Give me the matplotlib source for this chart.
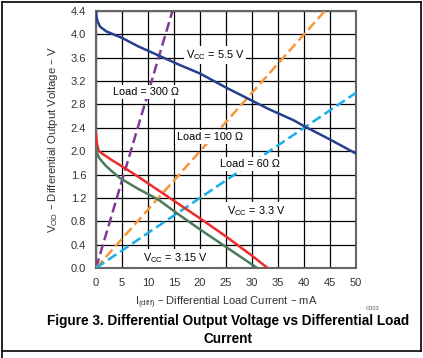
import matplotlib.pyplot as plt
from matplotlib.lines import Line2D

plt.rcParams['font.family'] = ['Liberation Sans', 'DejaVu Sans']

# Vcc curves (I in mA, VOD in V)
vcc55_i = [0, 0.1, 0.3, 0.8, 2, 5, 8, 12, 16, 20, 25, 29, 33, 38, 40, 45, 50]
vcc55_v = [4.40, 4.30, 4.22, 4.13, 4.05, 3.94, 3.80, 3.64, 3.48, 3.33, 3.09, 2.91, 2.73, 2.53, 2.43, 2.20, 1.96]

vcc33_i = [0, 0.2, 0.5, 1, 2, 3, 5, 8, 12, 16, 20, 25, 30, 33]
vcc33_v = [2.30, 2.12, 2.01, 1.97, 1.91, 1.85, 1.74, 1.57, 1.33, 1.09, 0.85, 0.54, 0.21, 0.0]

vcc315_i = [0, 0.2, 0.5, 1, 2, 3, 4.6, 8, 12, 16, 20, 25, 28, 31]
vcc315_v = [2.08, 1.97, 1.90, 1.84, 1.74, 1.66, 1.54, 1.36, 1.17, 0.91, 0.66, 0.36, 0.18, 0.0]

# load lines (end points)
load300_i = [0, 14.7]
load300_v = [0, 4.4]
load100_i = [0, 44]
load100_v = [0, 4.4]
load60_i = [0, 50]
load60_v = [0, 3.0]

x_ticks = [0, 5, 10, 15, 20, 25, 30, 35, 40, 45, 50]
y_ticks = [0.0, 0.4, 0.8, 1.2, 1.6, 2.0, 2.4, 2.8, 3.2, 3.6, 4.0, 4.4]

fig = plt.figure(figsize=(4.23, 3.58), dpi=100)
ax = fig.add_axes([0.227, 0.2514, 0.6146, 0.7178])

dash = (0, (4, 1.8))
ax.plot(load300_i, load300_v, color='#7f3a98', lw=1.8, ls=dash, zorder=3)
ax.plot(load100_i, load100_v, color='#f7963a', lw=1.8, ls=dash, zorder=3)
ax.plot(load60_i, load60_v, color='#19aee8', lw=1.8, ls=dash, zorder=3)
ax.plot(vcc55_i, vcc55_v, color='#25408f', lw=1.8, zorder=4)
ax.plot(vcc33_i, vcc33_v, color='#ee2b2b', lw=1.8, zorder=4)
ax.plot(vcc315_i, vcc315_v, color='#4d7a5c', lw=1.8, zorder=4)

ax.set_xlim(0, 50)
ax.set_ylim(0, 4.4)
ax.set_xticks(x_ticks)
ax.set_yticks(y_ticks)
ax.set_yticklabels([f'{v:.1f}' for v in y_ticks])
ax.grid(True, color='black', lw=0.9, zorder=1)
ax.set_axisbelow(True)
ax.tick_params(length=0, labelsize=8, colors='#333333', pad=7)
for s in ax.spines.values():
    s.set_color('#666666')
    s.set_linewidth(1.5)

box = dict(facecolor='white', edgecolor='none', pad=1.5)
fs = 7.8
ax.text(9.6, 3.02, 'Load = 300 Ω', fontsize=fs, ha='center', va='center', bbox=box, zorder=5)
ax.text(22.9, 3.65, 'V$_{\\mathregular{CC}}$ = 5.5 V', fontsize=fs, ha='center', va='center', bbox=box, zorder=5)
ax.text(21.9, 2.25, 'Load = 100 Ω', fontsize=fs, ha='center', va='center', bbox=box, zorder=5)
ax.text(29.6, 1.78, 'Load = 60 Ω', fontsize=fs, ha='center', va='center', bbox=box, zorder=5)
ax.text(30.9, 0.97, 'V$_{\\mathregular{CC}}$ = 3.3 V', fontsize=fs, ha='center', va='center', bbox=box, zorder=5)
ax.text(15.2, 0.17, 'V$_{\\mathregular{CC}}$ = 3.15 V', fontsize=fs, ha='center', va='center', bbox=box, zorder=5)

ax.set_ylabel('V$_{\\mathregular{OD}}$ – Differential Output Voltage – V', fontsize=8.2, color='#333333', labelpad=8)
ax.set_xlabel('I$_{\\mathregular{(diff)}}$ – Differential Load Current – mA', fontsize=8, color='#333333', labelpad=5)

fig.text(373 / 423, 1 - 308 / 358, 'G003', fontsize=4, color='#555555', ha='center', va='center')
fig.text(228 / 423, 1 - 330 / 358,
         'Figure 3. Differential Output Voltage vs Differential Load\nCurrent',
         fontsize=9.8, fontweight='bold', ha='center', va='center', linespacing=1.3)

# page frame
for xs, ys in [([2, 421], [2, 2]), ([2, 2], [2, 358]), ([421, 421], [2, 351]), ([2, 421], [351, 351])]:
    fig.add_artist(Line2D([x / 423 for x in xs], [1 - y / 358 for y in ys],
                          color='black', lw=1.2, transform=fig.transFigure))

fig.savefig('out.png', dpi=100)
